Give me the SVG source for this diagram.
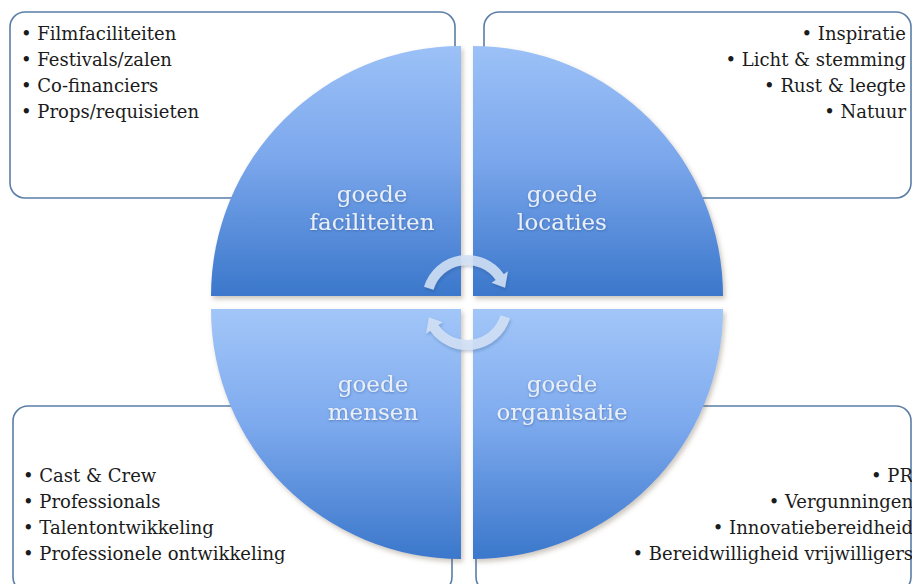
<svg xmlns="http://www.w3.org/2000/svg" width="912" height="584" viewBox="0 0 912 584">
<defs>
<linearGradient id="gTop" x1="0" y1="46" x2="0" y2="296" gradientUnits="userSpaceOnUse">
<stop offset="0" stop-color="#9cc1f7"/>
<stop offset="0.45" stop-color="#7ba7ec"/>
<stop offset="1" stop-color="#3b77cb"/>
</linearGradient>
<linearGradient id="gBot" x1="0" y1="309" x2="0" y2="559" gradientUnits="userSpaceOnUse">
<stop offset="0" stop-color="#a2c6f8"/>
<stop offset="0.45" stop-color="#7eaaee"/>
<stop offset="1" stop-color="#3b77cb"/>
</linearGradient>
<filter id="sh" x="-10%" y="-10%" width="130%" height="130%">
<feDropShadow dx="2" dy="3" stdDeviation="2.5" flood-color="#6b5a40" flood-opacity="0.35"/>
</filter>
<filter id="ash" x="-20%" y="-20%" width="140%" height="140%">
<feDropShadow dx="1" dy="2" stdDeviation="1.5" flood-color="#1d3f77" flood-opacity="0.3"/>
</filter>
<filter id="tsh" x="-5%" y="-20%" width="110%" height="140%">
<feDropShadow dx="0.5" dy="1" stdDeviation="0.8" flood-color="#2a4f8a" flood-opacity="0.5"/>
</filter>
</defs>
<style>
.box{fill:#ffffff;stroke:#5b7ea6;stroke-width:1.6}
.bul{font-family:"DejaVu Serif","Liberation Serif",serif;font-size:18px;fill:#1b1b1b}
.r{text-anchor:end}
.ql{font-family:"DejaVu Serif","Liberation Serif",serif;font-size:23px;fill:#e9eff9;text-anchor:middle}
.arc{fill:#d3e1f6;fill-opacity:0.88}
</style>
<rect width="912" height="584" fill="#ffffff"/>

<g id="box-faciliteiten">
<rect class="box" x="10" y="12" width="445" height="186" rx="15"/>
<text class="bul" x="21" y="40">• Filmfaciliteiten</text>
<text class="bul" x="21" y="66">• Festivals/zalen</text>
<text class="bul" x="21" y="92">• Co-financiers</text>
<text class="bul" x="21" y="118">• Props/requisieten</text>
</g>

<g id="box-locaties">
<rect class="box" x="484" y="12" width="427" height="186" rx="15"/>
<text class="bul r" x="906" y="40">• Inspiratie</text>
<text class="bul r" x="906" y="66">• Licht &amp; stemming</text>
<text class="bul r" x="906" y="92">• Rust &amp; leegte</text>
<text class="bul r" x="906" y="118">• Natuur</text>
</g>

<g id="box-mensen">
<rect class="box" x="13" y="406" width="439" height="186" rx="15"/>
<text class="bul" x="23" y="482">• Cast &amp; Crew</text>
<text class="bul" x="23" y="508">• Professionals</text>
<text class="bul" x="23" y="534">• Talentontwikkeling</text>
<text class="bul" x="23" y="560">• Professionele ontwikkeling</text>
</g>

<g id="box-organisatie">
<rect class="box" x="476" y="406" width="435" height="186" rx="15"/>
<text class="bul r" x="913" y="482">• PR</text>
<text class="bul r" x="913" y="508">• Vergunningen</text>
<text class="bul r" x="913" y="534">• Innovatiebereidheid</text>
<text class="bul r" x="913" y="560">• Bereidwilligheid vrijwilligers</text>
</g>

<g id="q-faciliteiten">
<path d="M461,296 L211,296 A250,250 0 0 1 461,46 Z" fill="url(#gTop)" filter="url(#sh)"/>
<g filter="url(#tsh)">
<text class="ql" x="372" y="202">goede</text>
<text class="ql" x="372" y="230">faciliteiten</text>
</g>
</g>

<g id="q-locaties">
<path d="M473,296 L473,46 A250,250 0 0 1 723,296 Z" fill="url(#gTop)" filter="url(#sh)"/>
<g filter="url(#tsh)">
<text class="ql" x="562" y="202">goede</text>
<text class="ql" x="562" y="230">locaties</text>
</g>
</g>

<g id="q-mensen">
<path d="M461,309 L461,559 A250,250 0 0 1 211,309 Z" fill="url(#gBot)" filter="url(#sh)"/>
<g filter="url(#tsh)">
<text class="ql" x="373" y="392">goede</text>
<text class="ql" x="373" y="420">mensen</text>
</g>
</g>

<g id="q-organisatie">
<path d="M473,309 L723,309 A250,250 0 0 1 473,559 Z" fill="url(#gBot)" filter="url(#sh)"/>
<g filter="url(#tsh)">
<text class="ql" x="562" y="392">goede</text>
<text class="ql" x="562" y="420">organisatie</text>
</g>
</g>

<g id="connectors" filter="url(#ash)">
<path class="arc" d="M423.97,286.84 A45,45 0 0 1 503.86,274.19 L507.96,271.32 L505.04,287.64 L491.57,282.79 L495.67,279.92 A35,35 0 0 0 433.53,289.77 Z"/>
<path class="arc" d="M510.03,318.16 A45,45 0 0 1 430.14,330.81 L426.04,333.68 L428.96,317.36 L442.43,322.21 L438.33,325.08 A35,35 0 0 0 500.47,315.23 Z"/>
</g>
</svg>
